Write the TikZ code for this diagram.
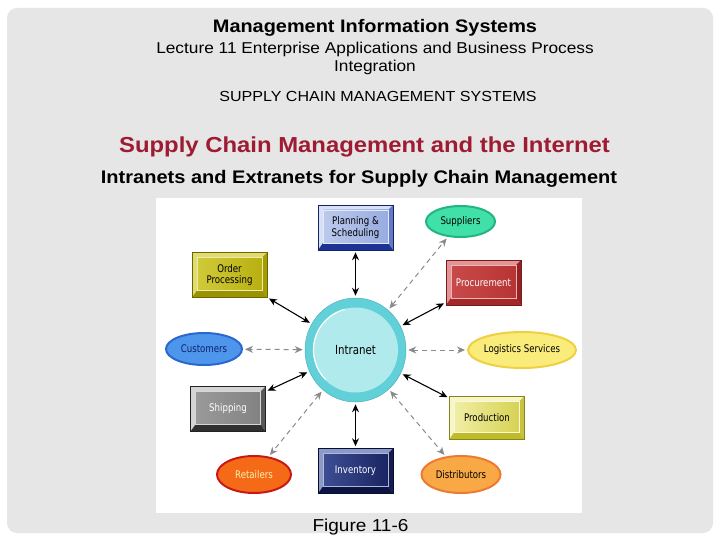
\documentclass[tikz,border=0pt]{standalone}
\usepackage{fontspec}
\setmainfont{Liberation Sans}[FakeStretch=1.1]
\newfontfamily\diagfont{DejaVu Sans}[FakeStretch=0.82]
\usetikzlibrary{shapes.geometric,arrows.meta}

% slide colours
\definecolor{slidegray}{HTML}{E6E6E6}
\definecolor{titlered}{HTML}{9E1B32}
\definecolor{linkgray}{HTML}{8A8A8A}
% box colours
\definecolor{planL}{HTML}{BCC9EC}\definecolor{planR}{HTML}{98ACE0}\definecolor{planT}{HTML}{D6E0F6}\definecolor{planD}{HTML}{6478C4}\definecolor{planB}{HTML}{1C3294}
\definecolor{ordL}{HTML}{D0CA38}\definecolor{ordR}{HTML}{B8B012}\definecolor{ordT}{HTML}{E0DC70}\definecolor{ordD}{HTML}{A49C00}\definecolor{ordB}{HTML}{9A9200}
\definecolor{procL}{HTML}{C84A4A}\definecolor{procR}{HTML}{B83434}\definecolor{procT}{HTML}{E49494}\definecolor{procD}{HTML}{942222}\definecolor{procB}{HTML}{A42828}
\definecolor{shipL}{HTML}{9A9A9A}\definecolor{shipR}{HTML}{828282}\definecolor{shipT}{HTML}{D4D4D4}\definecolor{shipD}{HTML}{585858}\definecolor{shipB}{HTML}{303030}
\definecolor{prodL}{HTML}{F0EEA4}\definecolor{prodR}{HTML}{D6D254}\definecolor{prodT}{HTML}{F6F6C8}\definecolor{prodD}{HTML}{C8C440}\definecolor{prodB}{HTML}{C0BC28}
\definecolor{invL}{HTML}{3E4E94}\definecolor{invR}{HTML}{1A2462}\definecolor{invT}{HTML}{8C9ACA}\definecolor{invD}{HTML}{141C50}\definecolor{invB}{HTML}{0C1444}
% ellipse colours
\definecolor{supF}{HTML}{40E0A8}\definecolor{supE}{HTML}{22B482}
\definecolor{custF}{HTML}{4E96EC}\definecolor{custE}{HTML}{2A68D0}\definecolor{custT}{HTML}{10206A}
\definecolor{logF}{HTML}{FAEC7A}\definecolor{logE}{HTML}{EED040}
\definecolor{retF}{HTML}{F56A16}\definecolor{retE}{HTML}{C81818}\definecolor{retT}{HTML}{FFF0B4}
\definecolor{distF}{HTML}{F9A846}\definecolor{distE}{HTML}{EE7A32}
\definecolor{hubring}{HTML}{62D0D8}\definecolor{hubface}{HTML}{B0EAEC}

\newcommand\boxfont{\diagfont\fontsize{10.5}{11.5}\selectfont}

\tikzset{
  bevelbox/.style n args={6}{rectangle, draw=#5!70!black, line width=0.5pt,
    minimum width=75pt, minimum height=45pt, inner sep=0pt, align=center,
    text=#6, font=\boxfont,
    path picture={
      \path (path picture bounding box.south west) coordinate (bsw)
            (path picture bounding box.south east) coordinate (bse)
            (path picture bounding box.north east) coordinate (bne);
      \fill[#3] (bsw) rectangle (bne);
      \fill[#4] (bse) -- (bne) -- ([shift={(-5pt,-5pt)}]bne) -- ([shift={(-5pt,7pt)}]bse) -- cycle;
      \fill[#5] (bsw) -- (bse) -- ([shift={(-5pt,7pt)}]bse) -- ([shift={(5pt,7pt)}]bsw) -- cycle;
      \shade[left color=#1, right color=#2, draw=white!60!#1, line width=0.4pt]
            ([shift={(5pt,7pt)}]bsw) rectangle ([shift={(-5pt,-5pt)}]bne);
    }},
  ovalbox/.style n args={3}{ellipse, fill=#1, draw=#2, line width=2pt,
    inner sep=0pt, text=#3, font=\boxfont},
  hub/.style={ellipse, minimum width=101pt, minimum height=104pt, inner sep=0pt,
    fill=hubring, draw=hubring!85!black, line width=0.5pt,
    font=\diagfont\fontsize{12.5}{14}\selectfont,
    path picture={
      \fill[hubface] (path picture bounding box.center) circle (42.5pt);
      \draw[white, line width=1.2pt] ([shift={(105:42pt)}]path picture bounding box.center)
            arc[start angle=105, end angle=225, radius=42pt];
    }},
  solidlink/.style={black, line width=1.1pt, {Stealth[length=8pt,width=7pt]}-{Stealth[length=8pt,width=7pt]},
    shorten <=2pt, shorten >=2pt},
  dashlink/.style={linkgray, line width=1pt, dash pattern=on 5pt off 4pt,
    {Stealth[length=8pt,width=7pt]}-{Stealth[length=8pt,width=7pt]}, shorten <=2pt, shorten >=2pt},
}

\begin{document}
\begin{tikzpicture}[x=1pt, y=-1pt]
    \useasboundingbox (0,0) rectangle (720,540);
    % Slide background
    \fill[white] (0,0) rectangle (720,540);
    \fill[slidegray, rounded corners=10pt] (7,8) rectangle (713,533);
    % Slide headings
    \node[anchor=base, font=\bfseries\fontsize{18.1}{20}\selectfont] (course) at (375,33) {Management Information Systems};
    \node[anchor=base, font=\fontsize{15.7}{17}\selectfont] (lecture) at (375,54) {Lecture 11 Enterprise Applications and Business Process};
    \node[anchor=base, font=\fontsize{15.7}{17}\selectfont] (lecture2) at (375,72) {Integration};
    \node[anchor=base, font=\fontsize{14.6}{16}\selectfont] (section) at (378,102) {SUPPLY CHAIN MANAGEMENT SYSTEMS};
    \node[anchor=base, text=titlered, font=\bfseries\fontsize{21.7}{24}\selectfont] (heading) at (364.5,153) {Supply Chain Management and the Internet};
    \node[anchor=base, font=\bfseries\fontsize{18.2}{20}\selectfont] (subheading) at (359,184) {Intranets and Extranets for Supply Chain Management};
    % White figure panel
    \fill[white] (156,198) rectangle (582,513);
    \node[anchor=base, font=\fontsize{17.3}{19}\selectfont] (caption) at (360.5,531) {Figure 11-6};
    % Centre of the network
    \node[hub] (intranet) at (355.5,350) {Intranet};
    % Internal units (bevelled boxes)
    \node[bevelbox={planL}{planR}{planT}{planD}{planB}{black}] (plan) at (355.5,227.5) {Planning \&\\Scheduling};
    \node[bevelbox={ordL}{ordR}{ordT}{ordD}{ordB}{black}] (order) at (229.5,275) {Order\\Processing};
    \node[bevelbox={procL}{procR}{procT}{procD}{procB}{white}] (proc) at (483.5,282.5) {Procurement};
    \node[bevelbox={shipL}{shipR}{shipT}{shipD}{shipB}{white}] (ship) at (228,409) {Shipping};
    \node[bevelbox={prodL}{prodR}{prodT}{prodD}{prodB}{black}, minimum height=43pt] (prod) at (487,417.5) {Production};
    \node[bevelbox={invL}{invR}{invT}{invD}{invB}{white}] (inv) at (355.5,471) {Inventory};
    % Outside partners (ovals)
    \node[ovalbox={supF}{supE}{black}, minimum width=69pt, minimum height=31pt] (sup) at (460.5,221.5) {Suppliers};
    \node[ovalbox={custF}{custE}{custT}, minimum width=76pt, minimum height=32pt] (cust) at (204,349) {Customers};
    \node[ovalbox={logF}{logE}{black}, minimum width=90pt, minimum height=36pt] (logi) at (522,350) {Logistics Services};
    \node[ovalbox={retF}{retE}{retT}, minimum width=74pt, minimum height=37pt] (ret) at (254,474.5) {Retailers};
    \node[ovalbox={distF}{distE}{black}, minimum width=79pt, minimum height=37pt] (dist) at (461,474.5) {Distributors};
    % Intranet links
    \foreach \n in {plan,order,proc,ship,prod,inv}
        \draw[solidlink] (intranet) -- (\n);
    % Extranet links
    \foreach \n in {sup,cust,logi,ret,dist}
        \draw[dashlink] (intranet) -- (\n);
\end{tikzpicture}
\end{document}
